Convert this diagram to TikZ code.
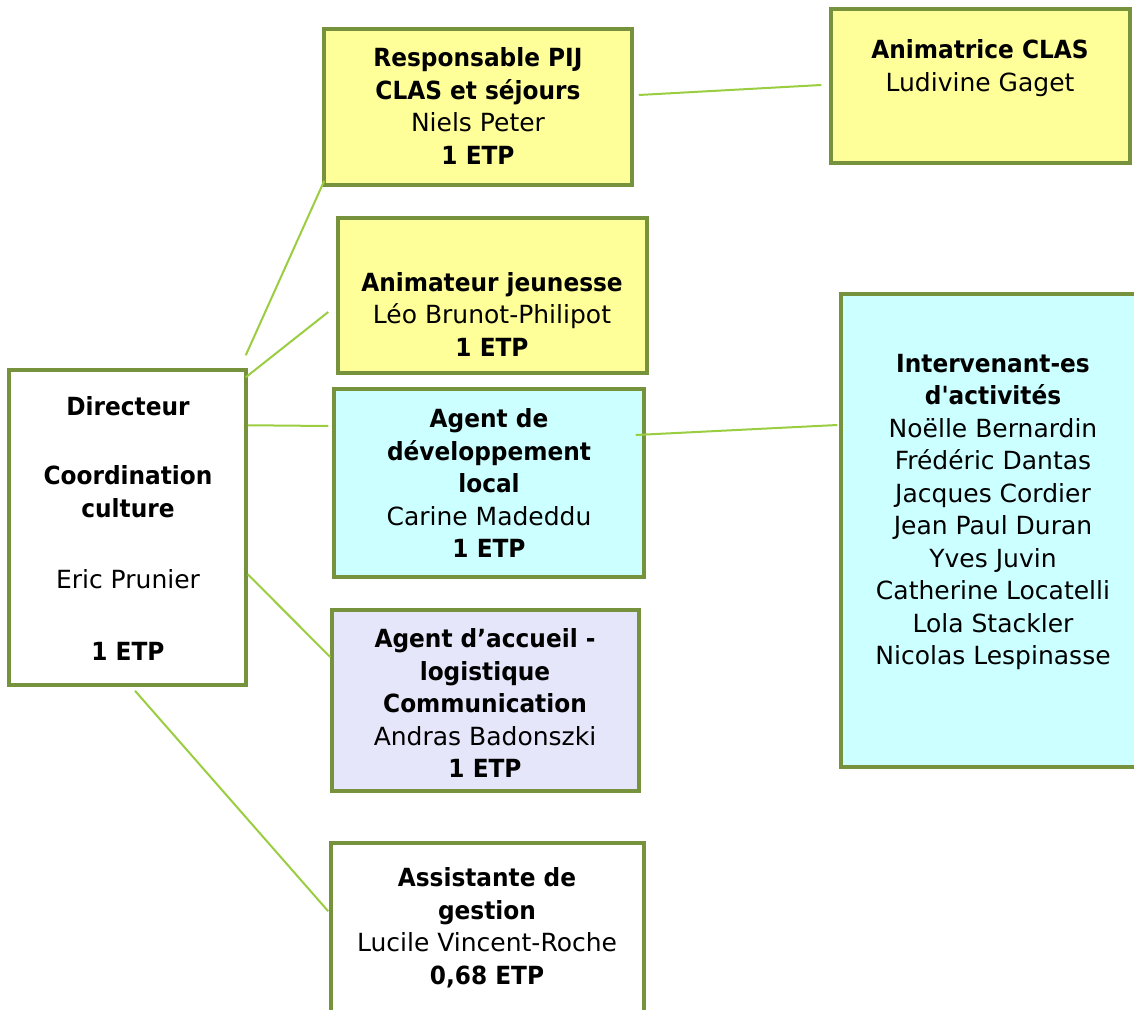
\documentclass[tikz,border=0pt]{standalone}
\usepackage{fontspec}
\setmainfont{DejaVu Sans}[Ligatures=TeXOff, BoldFeatures={FakeStretch=0.93}]
\usetikzlibrary{calc}
\definecolor{boxline}{HTML}{76923C}
\definecolor{linkline}{HTML}{9ACD40}
\definecolor{yel}{HTML}{FFFF99}
\definecolor{cya}{HTML}{CCFFFF}
\definecolor{lav}{HTML}{E6E6FA}
\tikzset{
  orgbox/.style={draw=boxline, line width=3.5pt, rectangle, inner sep=0pt},
  orgtext/.style={align=center, inner sep=0pt, font=\fontsize{25}{32.5}\selectfont},
  link/.style={draw=linkline, line width=2pt}
}
\begin{document}
\begin{tikzpicture}[x=1pt,y=-1pt]
\clip (0,0) rectangle (1134,1009);
\useasboundingbox (0,0) rectangle (1134,1009);
% boxes
\node[orgbox, fill=white, minimum width=237pt, minimum height=315pt] (dir) at (127.5,527.5) {};
\node[orgbox, fill=yel, minimum width=308pt, minimum height=156pt] (resp) at (478,107) {};
\node[orgbox, fill=yel, minimum width=299pt, minimum height=154pt] (anim) at (980.5,86) {};
\node[orgbox, fill=yel, minimum width=309pt, minimum height=155pt] (jeu) at (492.5,295.5) {};
\node[orgbox, fill=cya, minimum width=310pt, minimum height=188pt] (dev) at (489,483) {};
\node[orgbox, fill=cya, minimum width=305pt, minimum height=473pt] (int) at (993.5,530.5) {};
\node[orgbox, fill=lav, minimum width=307pt, minimum height=181pt] (acc) at (485.5,700.5) {};
\node[orgbox, fill=white, minimum width=313pt, minimum height=187pt] (ass) at (487.5,936.5) {};
% texts
\node[orgtext] (tdir) at (128,528) {\textbf{Directeur}\\[37pt]\textbf{Coordination}\\\textbf{culture}\\[39pt]Eric Prunier\\[39pt]\textbf{1 ETP}};
\node[orgtext] (tresp) at (478,106) {\textbf{Responsable PIJ}\\\textbf{CLAS et séjours}\\Niels Peter\\\textbf{1 ETP}};
\node[orgtext] (tanim) at (980,68) {\textbf{Animatrice CLAS}\\Ludivine Gaget};
\node[orgtext] (tjeu) at (492,314) {\textbf{Animateur jeunesse}\\Léo Brunot-Philipot\\\textbf{1 ETP}};
\node[orgtext] (tdev) at (489,483) {\textbf{Agent de}\\\textbf{développement}\\\textbf{local}\\Carine Madeddu\\\textbf{1 ETP}};
\node[orgtext] (tacc) at (485,703) {\textbf{Agent d’accueil -}\\\textbf{logistique}\\\textbf{Communication}\\Andras Badonszki\\\textbf{1 ETP}};
\node[orgtext] (tass) at (487,928) {\textbf{Assistante de}\\\textbf{gestion}\\Lucile Vincent-Roche\\\textbf{0,68 ETP}};
\node[orgtext] (tint) at (993,512) {\textbf{Intervenant-es}\\\textbf{d'activités}\\Noëlle Bernardin\\Frédéric Dantas\\Jacques Cordier\\Jean Paul Duran\\Yves Juvin\\Catherine Locatelli\\Lola Stackler\\Nicolas Lespinasse};
% connectors
\draw[link] ($(dir.north east)+(-2,-13)$) -- ($(resp.south west)+(2,-6)$);
\draw[link] ($(dir.north east)+(-2,9)$) -- ($(jeu.west)+(-8,16.5)$);
\draw[link] ($(dir.north east)+(0,57)$) -- ($(dev.west)+(-4,-57)$);
\draw[link] ($(dir.north east)+(0,206)$) -- ($(acc.west)+(0,-43.5)$);
\draw[link] ($(dir.south)+(7.5,4)$) -- ($(ass.north west)+(-1,70)$);
\draw[link] ($(resp.east)+(5,-12)$) -- ($(anim.west)+(-8,-1)$);
\draw[link] ($(dev.east)+(-10,-48)$) -- ($(int.west)+(-2,-105.5)$);
\end{tikzpicture}
\end{document}
